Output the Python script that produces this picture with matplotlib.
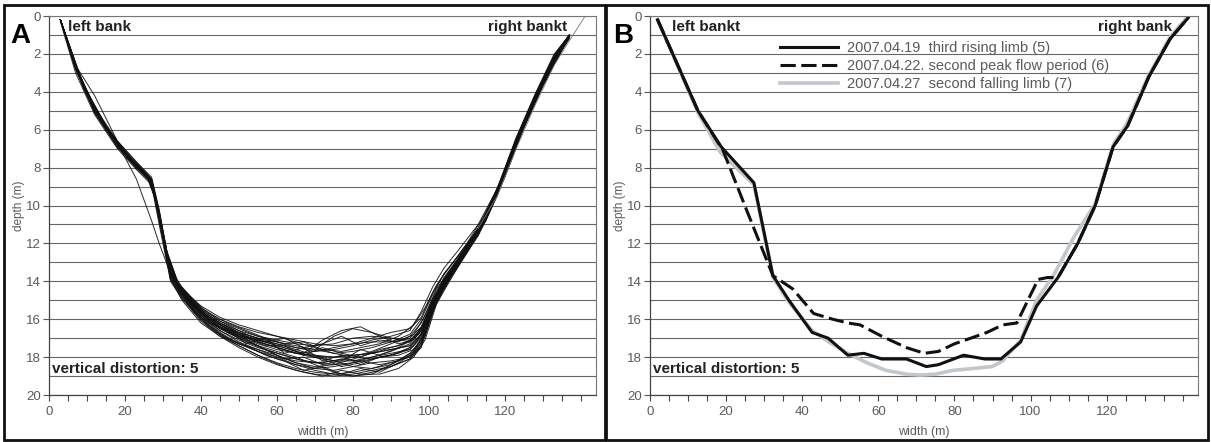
import matplotlib
matplotlib.use('Agg')
import matplotlib.pyplot as plt
from matplotlib.ticker import MultipleLocator, FixedLocator
from matplotlib.patches import Rectangle

plt.rcParams['font.family'] = ['Liberation Sans', 'DejaVu Sans']

# ---------------- data: panel A (all surveyed cross sections) ----------------
xa = [3, 7, 12, 18, 23, 27, 29, 32, 35, 40, 45, 50, 55, 60, 65, 70, 75, 80, 85,
      90, 95, 98, 101, 104, 108, 113, 118, 123, 128, 133, 137]

s01 = [0.2, 2.7, 5.0, 6.8, 7.9, 8.7, 10.5, 13.6, 14.5, 15.6, 16.3, 16.8, 17.2, 17.5, 17.8, 17.95, 18.0, 17.9, 17.8, 17.6, 17.4, 16.8, 15.2, 14.1, 12.9, 11.4, 9.3, 6.6, 4.3, 2.2, 1.1]
s02 = [0.2, 2.6, 4.9, 6.7, 7.8, 8.8, 10.8, 13.9, 14.8, 15.9, 16.6, 17.1, 17.5, 17.8, 18.1, 18.3, 18.4, 18.3, 18.1, 17.9, 17.6, 17.0, 15.4, 14.2, 13.0, 11.5, 9.4, 6.7, 4.4, 2.3, 1.1]
s03 = [0.2, 2.8, 5.1, 6.9, 8.0, 8.6, 10.3, 13.4, 14.3, 15.4, 16.1, 16.5, 16.9, 17.1, 17.3, 17.4, 17.3, 17.0, 16.9, 17.0, 17.1, 16.5, 15.0, 13.9, 12.8, 11.3, 9.2, 6.5, 4.2, 2.1, 1.0]
s04 = [0.3, 3.0, 5.2, 7.0, 8.1, 8.9, 11.0, 14.0, 14.9, 16.0, 16.8, 17.4, 17.9, 18.3, 18.6, 18.8, 18.9, 18.8, 18.6, 18.3, 18.0, 17.4, 15.6, 14.4, 13.1, 11.6, 9.5, 6.8, 4.5, 2.4, 1.2]
s05 = [0.2, 2.6, 4.2, 6.6, 7.7, 8.5, 10.2, 13.5, 14.6, 15.8, 16.5, 16.9, 17.1, 17.3, 17.6, 17.9, 18.2, 18.5, 18.6, 18.4, 17.9, 17.2, 15.3, 14.0, 12.7, 11.2, 9.1, 6.4, 4.1, 2.0, 1.0]
s06 = [0.2, 2.7, 5.0, 6.9, 8.0, 8.8, 10.6, 13.7, 14.7, 15.9, 16.7, 17.3, 17.7, 18.0, 18.2, 18.3, 18.2, 18.0, 17.7, 17.3, 16.9, 16.2, 14.9, 13.8, 12.7, 11.3, 9.2, 6.6, 4.3, 2.2, 1.1]
s07 = [0.2, 2.6, 4.8, 6.6, 7.7, 8.6, 10.4, 13.5, 14.4, 15.5, 16.2, 16.6, 16.9, 17.2, 17.5, 17.6, 16.9, 16.5, 16.7, 17.0, 17.2, 16.7, 15.1, 14.0, 12.9, 11.4, 9.3, 6.6, 4.3, 2.2, 1.1]
s08 = [0.2, 2.8, 5.0, 6.8, 7.9, 8.7, 10.5, 13.8, 14.9, 16.1, 16.9, 17.5, 18.0, 18.4, 18.7, 18.9, 19.0, 18.9, 18.7, 18.5, 18.1, 17.5, 15.5, 14.3, 13.0, 11.5, 9.4, 6.7, 4.4, 2.3, 1.1]
s09 = [0.2, 2.7, 5.0, 6.8, 7.9, 8.8, 10.7, 13.6, 14.5, 15.5, 16.2, 16.7, 17.0, 17.2, 17.4, 17.6, 17.8, 17.7, 17.5, 17.2, 16.8, 16.0, 14.7, 13.6, 12.6, 11.2, 9.2, 6.5, 4.3, 2.2, 1.1]
s10 = [0.2, 2.7, 5.0, 6.8, 8.0, 8.7, 10.5, 13.9, 15.0, 16.2, 16.9, 17.3, 17.6, 17.9, 18.3, 18.6, 18.7, 18.5, 18.3, 18.2, 18.0, 17.3, 15.4, 14.2, 13.0, 11.5, 9.4, 6.7, 4.4, 2.3, 1.1]
s11 = [0.2, 2.7, 4.9, 6.7, 7.8, 8.6, 10.3, 13.5, 14.4, 15.4, 16.0, 16.4, 16.7, 16.9, 17.2, 17.5, 17.8, 18.0, 18.1, 17.9, 17.5, 16.8, 15.2, 14.1, 12.9, 11.4, 9.3, 6.6, 4.3, 2.2, 1.1]
s12 = [0.2, 2.8, 5.1, 6.9, 8.0, 8.8, 10.6, 13.7, 14.6, 15.7, 16.5, 17.0, 17.4, 17.7, 18.0, 18.4, 18.8, 19.0, 18.9, 18.4, 17.8, 17.1, 15.3, 14.1, 12.9, 11.4, 9.3, 6.6, 4.3, 2.2, 1.1]
s13 = [0.2, 2.6, 4.9, 6.7, 7.8, 8.7, 10.5, 13.6, 14.5, 15.6, 16.4, 16.9, 17.3, 17.6, 17.8, 17.7, 17.5, 17.3, 17.2, 17.2, 17.0, 16.4, 15.0, 13.9, 12.8, 11.3, 9.2, 6.5, 4.2, 2.1, 1.0]
s14 = [0.2, 2.7, 5.0, 6.8, 7.9, 8.7, 10.5, 13.8, 14.8, 16.0, 16.8, 17.3, 17.7, 18.1, 18.4, 18.6, 18.5, 18.3, 18.0, 17.8, 17.6, 16.9, 15.2, 14.1, 12.9, 11.4, 9.3, 6.6, 4.3, 2.2, 1.1]
s15 = [0.2, 2.7, 5.0, 6.8, 7.9, 8.7, 10.5, 13.6, 14.6, 15.7, 16.4, 16.8, 17.1, 17.4, 17.7, 18.0, 18.2, 18.2, 18.0, 17.7, 17.3, 16.6, 15.1, 14.0, 12.8, 11.3, 9.2, 6.5, 4.2, 2.1, 1.0]
s16 = [0.2, 2.7, 5.0, 6.8, 7.9, 8.7, 10.4, 13.5, 14.4, 15.3, 15.9, 16.3, 16.6, 16.9, 17.1, 17.3, 17.4, 17.3, 17.0, 16.7, 16.5, 15.9, 14.6, 13.6, 12.6, 11.2, 9.2, 6.5, 4.2, 2.1, 1.0]
s17 = [0.2, 2.7, 5.0, 6.8, 7.9, 8.7, 10.6, 13.7, 14.7, 15.8, 16.6, 17.2, 17.6, 18.0, 18.4, 18.7, 18.9, 19.0, 18.8, 18.5, 18.1, 17.4, 15.5, 14.3, 13.0, 11.5, 9.4, 6.7, 4.4, 2.3, 1.1]
s18 = [0.2, 2.7, 5.0, 6.8, 7.9, 8.7, 10.5, 13.6, 14.5, 15.6, 16.3, 16.9, 17.4, 17.9, 18.3, 18.5, 18.4, 18.1, 17.8, 17.5, 17.2, 16.5, 15.0, 13.9, 12.8, 11.3, 9.2, 6.5, 4.2, 2.1, 1.0]
s19 = [0.2, 2.7, 5.0, 6.7, 8.6, 10.8, 12.0, 13.6, 14.5, 15.6, 16.3, 16.8, 17.2, 17.5, 17.8, 17.9, 18.0, 17.9, 17.8, 17.6, 17.4, 16.8, 15.2, 14.1, 12.9, 11.4, 9.3, 6.6, 4.3, 2.2, 1.1]
s20 = [0.2, 2.7, 5.0, 6.8, 7.9, 8.7, 10.5, 13.6, 14.5, 15.6, 16.3, 16.7, 17.0, 17.3, 17.5, 17.7, 17.6, 17.4, 17.1, 16.9, 16.6, 15.6, 14.3, 13.3, 12.3, 11.0, 9.1, 6.5, 4.2, 2.1, 1.0]
sections_A = [s01, s02, s03, s04, s05, s06, s07, s08, s09, s10,
              s11, s12, s13, s14, s15, s16, s17, s18, s19, s20]

# sections surveyed at a second set of stations
xa2 = [3, 9, 15, 21, 26, 28, 31, 34, 38, 42, 47, 52, 57, 62, 67, 72, 77, 82, 87,
       92, 96, 99, 102, 106, 110, 115, 120, 125, 130, 135, 137]

t01 = [0.2, 3.7, 5.9, 7.5, 8.5, 9.6, 12.6, 14.3, 15.4, 16.2, 16.6, 17.3, 17.0, 17.8, 17.5, 18.2, 17.9, 18.4, 18.0, 17.8, 17.4, 16.5, 14.9, 13.6, 12.4, 10.7, 8.4, 5.8, 3.6, 1.8, 1.1]
t02 = [0.2, 3.6, 5.8, 7.4, 8.4, 9.5, 12.4, 14.1, 15.1, 15.8, 16.3, 16.8, 17.2, 17.0, 17.5, 17.3, 16.9, 17.4, 17.1, 17.2, 16.8, 15.8, 14.4, 13.3, 12.2, 10.5, 8.2, 5.6, 3.4, 1.7, 1.0]
t03 = [0.2, 3.8, 6.0, 7.6, 8.6, 9.7, 12.7, 14.4, 15.5, 16.3, 17.0, 17.4, 17.9, 18.2, 18.7, 18.5, 18.9, 18.6, 18.8, 18.3, 17.8, 16.9, 15.1, 13.7, 12.5, 10.8, 8.5, 5.9, 3.7, 1.8, 1.1]
t04 = [0.2, 3.7, 5.9, 7.5, 8.5, 9.6, 12.5, 14.2, 15.2, 16.0, 16.7, 17.2, 17.6, 18.1, 18.0, 18.4, 18.2, 17.6, 17.9, 17.5, 17.0, 16.1, 14.7, 13.4, 12.2, 10.6, 8.3, 5.7, 3.5, 1.7, 1.1]
t05 = [0.2, 3.7, 5.9, 7.5, 8.5, 9.6, 12.5, 14.2, 15.3, 16.1, 16.6, 17.0, 17.4, 17.4, 17.9, 18.1, 18.5, 18.3, 18.0, 17.9, 17.6, 16.8, 15.0, 13.6, 12.4, 10.7, 8.4, 5.8, 3.6, 1.8, 1.1]
t06 = [0.2, 3.6, 5.8, 7.4, 8.4, 9.5, 12.4, 14.1, 15.0, 15.7, 16.2, 16.6, 17.0, 17.3, 17.2, 17.6, 17.7, 17.5, 17.3, 16.9, 16.3, 15.4, 14.2, 13.1, 12.0, 10.4, 8.2, 5.6, 3.4, 1.7, 1.0]
t07 = [0.2, 3.7, 5.9, 7.5, 8.5, 9.6, 12.6, 14.4, 15.6, 16.4, 17.1, 17.6, 18.1, 18.5, 18.8, 19.0, 18.7, 18.9, 18.9, 18.6, 18.0, 17.1, 15.2, 13.8, 12.5, 10.8, 8.5, 5.9, 3.7, 1.8, 1.1]
t08 = [0.2, 3.7, 5.9, 7.5, 8.5, 9.6, 12.5, 14.2, 15.2, 15.9, 16.5, 16.9, 17.3, 17.6, 17.9, 17.5, 17.8, 18.0, 17.6, 17.4, 17.0, 16.2, 14.8, 13.5, 12.3, 10.6, 8.3, 5.7, 3.5, 1.7, 1.1]
t09 = [0.2, 3.7, 5.9, 7.5, 8.5, 9.6, 12.6, 14.3, 15.3, 16.0, 16.7, 17.1, 17.6, 17.9, 18.2, 18.3, 18.1, 18.2, 18.4, 18.2, 17.7, 16.7, 15.0, 13.6, 12.4, 10.7, 8.4, 5.8, 3.6, 1.8, 1.1]
t10 = [0.2, 3.7, 5.9, 7.5, 8.5, 9.6, 12.5, 14.2, 15.2, 15.9, 16.4, 16.9, 17.2, 17.5, 17.8, 17.1, 16.6, 16.4, 16.9, 17.3, 17.1, 16.3, 14.8, 13.5, 12.3, 10.6, 8.3, 5.7, 3.5, 1.7, 1.1]
sections_A2 = [t01, t02, t03, t04, t05, t06, t07, t08, t09, t10]

# thin line reaching the right bank top
xa_thin = [113, 118, 123, 128, 133, 137, 141]
da_thin = [11.2, 9.5, 7.0, 4.7, 2.6, 1.3, 0.05]

# ---------------- data: panel B (three dated sections) ----------------
xb_rise = [2, 12.6, 18.7, 27.3, 32.3, 36.5, 42.6, 46.8, 52, 56.2, 60.9, 67.4, 72.6, 75.8,
           82.4, 88, 92.2, 97.4, 101.6, 107.2, 112.4, 117, 121.7, 125.5, 131.1, 136.7, 141.4]
db_rise = [0.2, 5.0, 6.9, 8.8, 13.7, 15.0, 16.7, 17.0, 17.9, 17.8, 18.1, 18.1, 18.5, 18.4,
           17.9, 18.1, 18.1, 17.2, 15.3, 13.8, 12.0, 10.0, 6.9, 5.8, 3.2, 1.2, 0.1]

xb_peak = [2, 12.6, 19.2, 25.5, 32.3, 37.5, 43, 48, 52, 55.2, 60.9, 67.4, 72.1, 75.8, 80,
           84.3, 88.5, 92.7, 96.4, 99.3, 102, 104.5, 107.2, 112.4, 117, 121.7, 125.5,
           131.1, 136.7, 141.4]
db_peak = [0.2, 5.0, 7.1, 10.3, 13.7, 14.4, 15.7, 16.0, 16.2, 16.3, 16.9, 17.5, 17.8, 17.7,
           17.3, 17.0, 16.7, 16.3, 16.2, 15.0, 13.9, 13.8, 13.8, 12.0, 10.0, 6.9, 5.8,
           3.2, 1.2, 0.1]

xb_fall = [2, 12.6, 18.5, 27.3, 32.3, 36.5, 42.6, 47, 52, 57, 62, 67.4, 71, 75, 79.6, 85,
           89.9, 92.7, 97.4, 101.6, 106, 111.6, 117, 121.7, 125.5, 131.1, 136.7, 141.4]
db_fall = [0.2, 5.1, 7.2, 8.9, 13.8, 15.1, 16.6, 17.2, 17.8, 18.3, 18.7, 18.9, 18.95, 18.9,
           18.7, 18.6, 18.5, 18.2, 17.1, 15.0, 13.7, 11.6, 9.9, 6.8, 5.6, 3.1, 1.1, 0.0]

labels_B = ['2007.04.19  third rising limb (5)',
            '2007.04.22. second peak flow period (6)',
            '2007.04.27  second falling limb (7)']

x_tick_labels = [0, 20, 40, 60, 80, 100, 120]

# ---------------- figure ----------------
W, H = 1211, 442
fig = plt.figure(figsize=(W / 100, H / 100), dpi=100)
fig.patch.set_facecolor('white')


def rect(l, t, r, b):
    return [l / W, 1 - b / H, (r - l) / W, (b - t) / H]


def fx(px):
    return px / W


def fy(py):
    return 1 - py / H


axA = fig.add_axes(rect(49, 16, 596, 395))
axB = fig.add_axes(rect(650, 16, 1198, 395))

TXT = '#5a5a5a'


def style(ax):
    ax.set_xlim(0, 144)
    ax.set_ylim(20, 0)
    ax.yaxis.set_major_locator(MultipleLocator(2))
    ax.yaxis.set_minor_locator(MultipleLocator(1))
    ax.xaxis.set_major_locator(FixedLocator(x_tick_labels))
    ax.xaxis.set_minor_locator(MultipleLocator(5))
    ax.grid(True, axis='y', which='both', color='#666666', lw=0.8)
    ax.set_axisbelow(True)
    ax.tick_params(axis='y', which='major', length=4, width=0.8, color='#555555',
                   labelcolor=TXT, labelsize=9.5, pad=2)
    ax.tick_params(axis='y', which='minor', length=0)
    ax.tick_params(axis='x', which='both', length=4, width=0.8, color='#444444',
                   labelcolor=TXT, labelsize=9.5, pad=4)
    for side in ['left', 'bottom']:
        ax.spines[side].set_color('#444444')
        ax.spines[side].set_linewidth(0.9)
    for side in ['top', 'right']:
        ax.spines[side].set_color('#777777')
        ax.spines[side].set_linewidth(0.8)
    ax.set_xlabel('width (m)', fontsize=9, color=TXT)
    ax.xaxis.set_label_coords(0.5, -0.083)
    ax.set_ylabel('depth (m)', fontsize=8.5, color=TXT)
    ax.yaxis.set_label_coords(-0.043, 0.5)


style(axA)
style(axB)

# panel A lines
for s in sections_A:
    axA.plot(xa, s, color='#111111', lw=0.7, alpha=0.9)
for s in sections_A2:
    axA.plot(xa2, s, color='#111111', lw=0.7, alpha=0.9)
axA.plot(xa_thin, da_thin, color='#777777', lw=0.6)

# panel B lines
l3, = axB.plot(xb_fall, db_fall, color='#c2c7cc', lw=2.6)
l1, = axB.plot(xb_rise, db_rise, color='#111111', lw=2.2)
l2, = axB.plot(xb_peak, db_peak, color='#111111', lw=2.2, dashes=(5.0, 1.8))

axB.legend([l1, l2, l3], labels_B, loc='upper left', bbox_to_anchor=(0.237, 0.934),
           frameon=False, fontsize=10.5, handlelength=4.0, handletextpad=0.6,
           labelspacing=0.28, borderaxespad=0, borderpad=0, labelcolor=TXT)

# texts
fig.text(fx(20), fy(36), 'A', fontsize=20, fontweight='bold', ha='center', va='center')
fig.text(fx(623), fy(36), 'B', fontsize=20, fontweight='bold', ha='center', va='center')
fig.text(fx(68), fy(27), 'left bank', fontsize=11, fontweight='bold', color='#222222',
         ha='left', va='center')
fig.text(fx(567), fy(27), 'right bankt', fontsize=11, fontweight='bold', color='#222222',
         ha='right', va='center')
fig.text(fx(672), fy(27), 'left bankt', fontsize=11, fontweight='bold', color='#222222',
         ha='left', va='center')
fig.text(fx(1172), fy(27), 'right bank', fontsize=11, fontweight='bold', color='#222222',
         ha='right', va='center')
fig.text(fx(52), fy(369), 'vertical distortion: 5', fontsize=11, fontweight='bold',
         color='#222222', ha='left', va='center')
fig.text(fx(653), fy(369), 'vertical distortion: 5', fontsize=11, fontweight='bold',
         color='#222222', ha='left', va='center')

# panel frames
for (l, t, r, b) in [(4, 5, 605, 440), (606, 5, 1208, 440)]:
    fig.add_artist(Rectangle((fx(l), fy(b)), (r - l) / W, (b - t) / H,
                             transform=fig.transFigure, fill=False,
                             edgecolor='#111111', lw=2.0))

fig.savefig('out.png', dpi=100, facecolor='white')
